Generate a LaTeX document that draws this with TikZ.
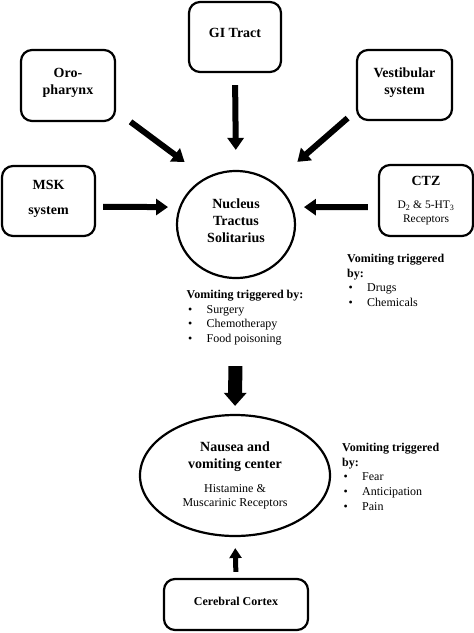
\documentclass[tikz,border=0pt]{standalone}
\usepackage{fontspec}
\setmainfont{Liberation Serif}
\usepackage{tikz}
\usetikzlibrary{arrows.meta, positioning, shapes.geometric}

\newcommand{\bul}{\makebox[20pt][l]{\hspace{1.5pt}\textbullet}}

\begin{document}
\begin{tikzpicture}[x=1pt, y=-1pt,
    organ/.style={draw, line width=2.2pt, rounded corners=11pt, align=center, inner sep=0pt,
        font=\fontsize{14}{17}\selectfont\bfseries},
    hub/.style={draw, ellipse, line width=2.2pt, align=center, inner sep=0pt,
        font=\fontsize{14}{17}\selectfont\bfseries},
    feed/.style={-{Triangle[length=12pt, width=16pt]}, line width=6pt},
    list/.style={anchor=north west, align=left, inner sep=0pt, font=\fontsize{12}{14.7}\selectfont}
]
\useasboundingbox (0,0) rectangle (474,633);

% Sources around the nucleus
\node[organ, minimum width=92pt, minimum height=70pt, text depth=9pt] (gi) at (235,37) {GI Tract};
\node[organ, minimum width=94pt, minimum height=71pt, text depth=8pt] (oro) at (68,85.5) {Oro-\\pharynx};
\node[organ, minimum width=95pt, minimum height=70pt, text depth=8pt] (vest) at (404.5,85) {Vestibular\\system};
\node[organ, minimum width=93pt, minimum height=70pt, text depth=7pt] (msk) at (48.5,201) {MSK\\[8pt]system};
\node[organ, minimum width=94pt, minimum height=71pt] (ctz) at (426,200.5)
    {CTZ\\[6pt]{\mdseries\fontsize{11.5}{13}\selectfont D\textsubscript{2} \& 5-HT\textsubscript{3}}\\[-3pt]
     {\mdseries\fontsize{11.5}{13}\selectfont Receptors}};

% Centres
\node[hub, minimum width=118pt, minimum height=107pt, text depth=8pt] (nts) at (236,224.5) {Nucleus\\Tractus\\Solitarius};
\node[hub, minimum width=190pt, minimum height=121pt] (nvc) at (235,475.5)
    {Nausea and\\vomiting center\\[7pt]{\mdseries\fontsize{12}{14}\selectfont Histamine \&}\\[-3pt]
     {\mdseries\fontsize{12}{14}\selectfont Muscarinic Receptors}};
\node[organ, minimum width=144pt, minimum height=51pt, text depth=7pt, font=\fontsize{12}{14}\selectfont\bfseries]
    (cortex) at (236,604.5) {Cerebral Cortex};

% Triggers
\node[list] (ntslist) at (186.5,290) {\textbf{Vomiting triggered by:}\\\bul Surgery\\\bul Chemotherapy\\\bul Food poisoning};
\node[list] (ctzlist) at (347,254) {\textbf{Vomiting triggered}\\\textbf{by:}\\\bul Drugs\\\bul Chemicals};
\node[list] (nvclist) at (342,443) {\textbf{Vomiting triggered}\\\textbf{by:}\\\bul Fear\\\bul Anticipation\\\bul Pain};

% Arrows into the nucleus
\draw[feed, shorten <=12pt, shorten >=20pt] (gi.south) -- (nts.north);
\draw[feed, shorten <=18pt, shorten >=26pt] (oro.-28) -- (nts.123);
\draw[feed, shorten <=11pt, shorten >=31pt] (vest.208.7) -- (nts.48.4);
\draw[feed, shorten <=7pt, shorten >=11pt] (msk.-7) -- (nts.163);
\draw[feed, shorten <=10pt, shorten >=11pt] (ctz.188) -- (nts.17);

% Nucleus to centre, cortex to centre
\draw[-{Triangle[length=13pt, width=22pt]}, line width=14pt, shorten <=87pt, shorten >=8pt] (nts.south) -- (nvc.north);
\draw[-{Triangle[length=10pt, width=12pt]}, line width=5pt, shorten <=6pt, shorten >=11pt] (cortex.north) -- (nvc.south);
\end{tikzpicture}
\end{document}
